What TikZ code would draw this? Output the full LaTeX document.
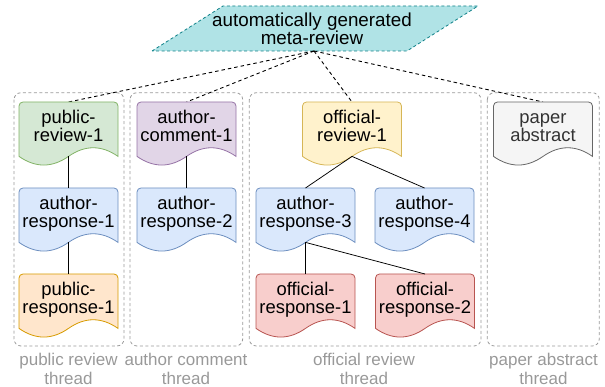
\documentclass[tikz,border=0pt]{standalone}
\usepackage{fontspec}
\setmainfont{Liberation Sans}
\definecolor{greenF}{HTML}{D5E8D4}\definecolor{greenS}{HTML}{82B366}
\definecolor{purpleF}{HTML}{E1D5E7}\definecolor{purpleS}{HTML}{9673A6}
\definecolor{blueF}{HTML}{DAE8FC}\definecolor{blueS}{HTML}{6C8EBF}
\definecolor{yellowF}{HTML}{FFF2CC}\definecolor{yellowS}{HTML}{D6B656}
\definecolor{orangeF}{HTML}{FFE6CC}\definecolor{orangeS}{HTML}{D79B00}
\definecolor{redF}{HTML}{F8CECC}\definecolor{redS}{HTML}{B85450}
\definecolor{grayF}{HTML}{F5F5F5}\definecolor{grayS}{HTML}{666666}
\definecolor{grayT}{HTML}{333333}
\definecolor{metaF}{HTML}{B0E3E6}\definecolor{metaS}{HTML}{0E8088}
\definecolor{threadgray}{HTML}{9A9A9A}
\definecolor{labelgray}{HTML}{999999}
\newcommand\docshape[7]{% name, cx, top, fill, stroke, text colour, text
  \begin{scope}[shift={(#2,#3)}]
    \filldraw[fill=#4, draw=#5, line width=0.8pt]
      (-49.5,54.4) [rounded corners=4pt] -- (-49.5,0) -- (49.5,0) -- (49.5,30) [sharp corners] -- (49.5,54.4)
      .. controls (33,42.88) and (16.5,42.88) .. (0,54.4)
      .. controls (-16.5,65.92) and (-33,65.92) .. (-49.5,54.4) -- cycle;
    \coordinate (#1-top) at (0,0);
    \coordinate (#1-bot) at (0,54.4);
    \node[txt, text=#6] (#1) at (0,40) {#7};
  \end{scope}}
\begin{document}
\begin{tikzpicture}[x=1pt,y=-1pt,
  thread/.style={draw=threadgray, dash pattern=on 3pt off 2.5pt, rounded corners=7pt, line width=0.8pt},
  link/.style={draw=black, line width=0.75pt},
  metalink/.style={draw=black, dash pattern=on 3.5pt off 3pt, line width=0.9pt},
  lbl/.style={text=labelgray, font=\fontsize{17}{18.3}\selectfont, align=center, anchor=base, inner sep=0pt},
  txt/.style={font=\fontsize{18.4}{18.8}\selectfont, align=center, anchor=base, inner sep=0pt},
  toptxt/.style={font=\fontsize{18.8}{18.3}\selectfont, align=center, anchor=base, inner sep=0pt}]
\useasboundingbox (0,0) rectangle (605,387);
% thread containers
\draw[thread] (14,92.7) rectangle (124,346);
\draw[thread] (130,92.7) rectangle (242.7,346);
\draw[thread] (249.3,92.7) rectangle (481,346);
\draw[thread] (487.3,92.7) rectangle (599.3,346);
\node[lbl] (lpub) at (68.5,384) {public review\\thread};
\node[lbl] (lauth) at (186,384) {author comment\\thread};
\node[lbl] (loff) at (364,384) {official review\\thread};
\node[lbl] (lpap) at (543.5,384) {paper abstract\\thread};
% meta-review
\filldraw[fill=metaF, draw=metaS, dash pattern=on 3pt off 2.5pt, line width=0.8pt]
  (152,51) -- (223,6) -- (478,6) -- (407,51) -- cycle;
\node[toptxt] (meta) at (312,45) {automatically generated\\meta-review};
\coordinate (meta-bot) at (314,51);
% coordinates of node tops for links
\coordinate (pr1-top) at (68.5,102);
\coordinate (ac1-top) at (186.5,102);
\coordinate (or1-top) at (352,102);
\coordinate (pap-top) at (543,102);
\draw[metalink] (meta-bot) -- (pr1-top);
\draw[metalink] (meta-bot) -- (ac1-top);
\draw[metalink] (meta-bot) -- (or1-top);
\draw[metalink] (meta-bot) -- (pap-top);
% documents
\docshape{pr1}{68.5}{102}{greenF}{greenS}{black}{public-\\review-1}
\docshape{ar1}{68.5}{188}{blueF}{blueS}{black}{author-\\response-1}
\docshape{pub1}{68.5}{274}{orangeF}{orangeS}{black}{public-\\response-1}
\docshape{ac1}{186.5}{102}{purpleF}{purpleS}{black}{author-\\comment-1}
\docshape{ar2}{186.5}{188}{blueF}{blueS}{black}{author-\\response-2}
\docshape{or1}{352}{102}{yellowF}{yellowS}{black}{official-\\review-1}
\docshape{ar3}{305.5}{188}{blueF}{blueS}{black}{author-\\response-3}
\docshape{ar4}{424.5}{188}{blueF}{blueS}{black}{author-\\response-4}
\docshape{ofr1}{305.5}{274}{redF}{redS}{black}{official-\\response-1}
\docshape{ofr2}{425}{274}{redF}{redS}{black}{official-\\response-2}
\docshape{pap}{543}{102}{grayF}{grayS}{grayT}{paper\\abstract}
% links
\draw[link] (pr1-bot) -- (ar1-top);
\draw[link] (ar1-bot) -- (pub1-top);
\draw[link] (ac1-bot) -- (ar2-top);
\draw[link] (or1-bot) -- (ar3-top);
\draw[link] (or1-bot) -- (ar4-top);
\draw[link] (ar3-bot) -- (ofr1-top);
\draw[link] (ar3-bot) -- (ofr2-top);
\end{tikzpicture}
\end{document}
